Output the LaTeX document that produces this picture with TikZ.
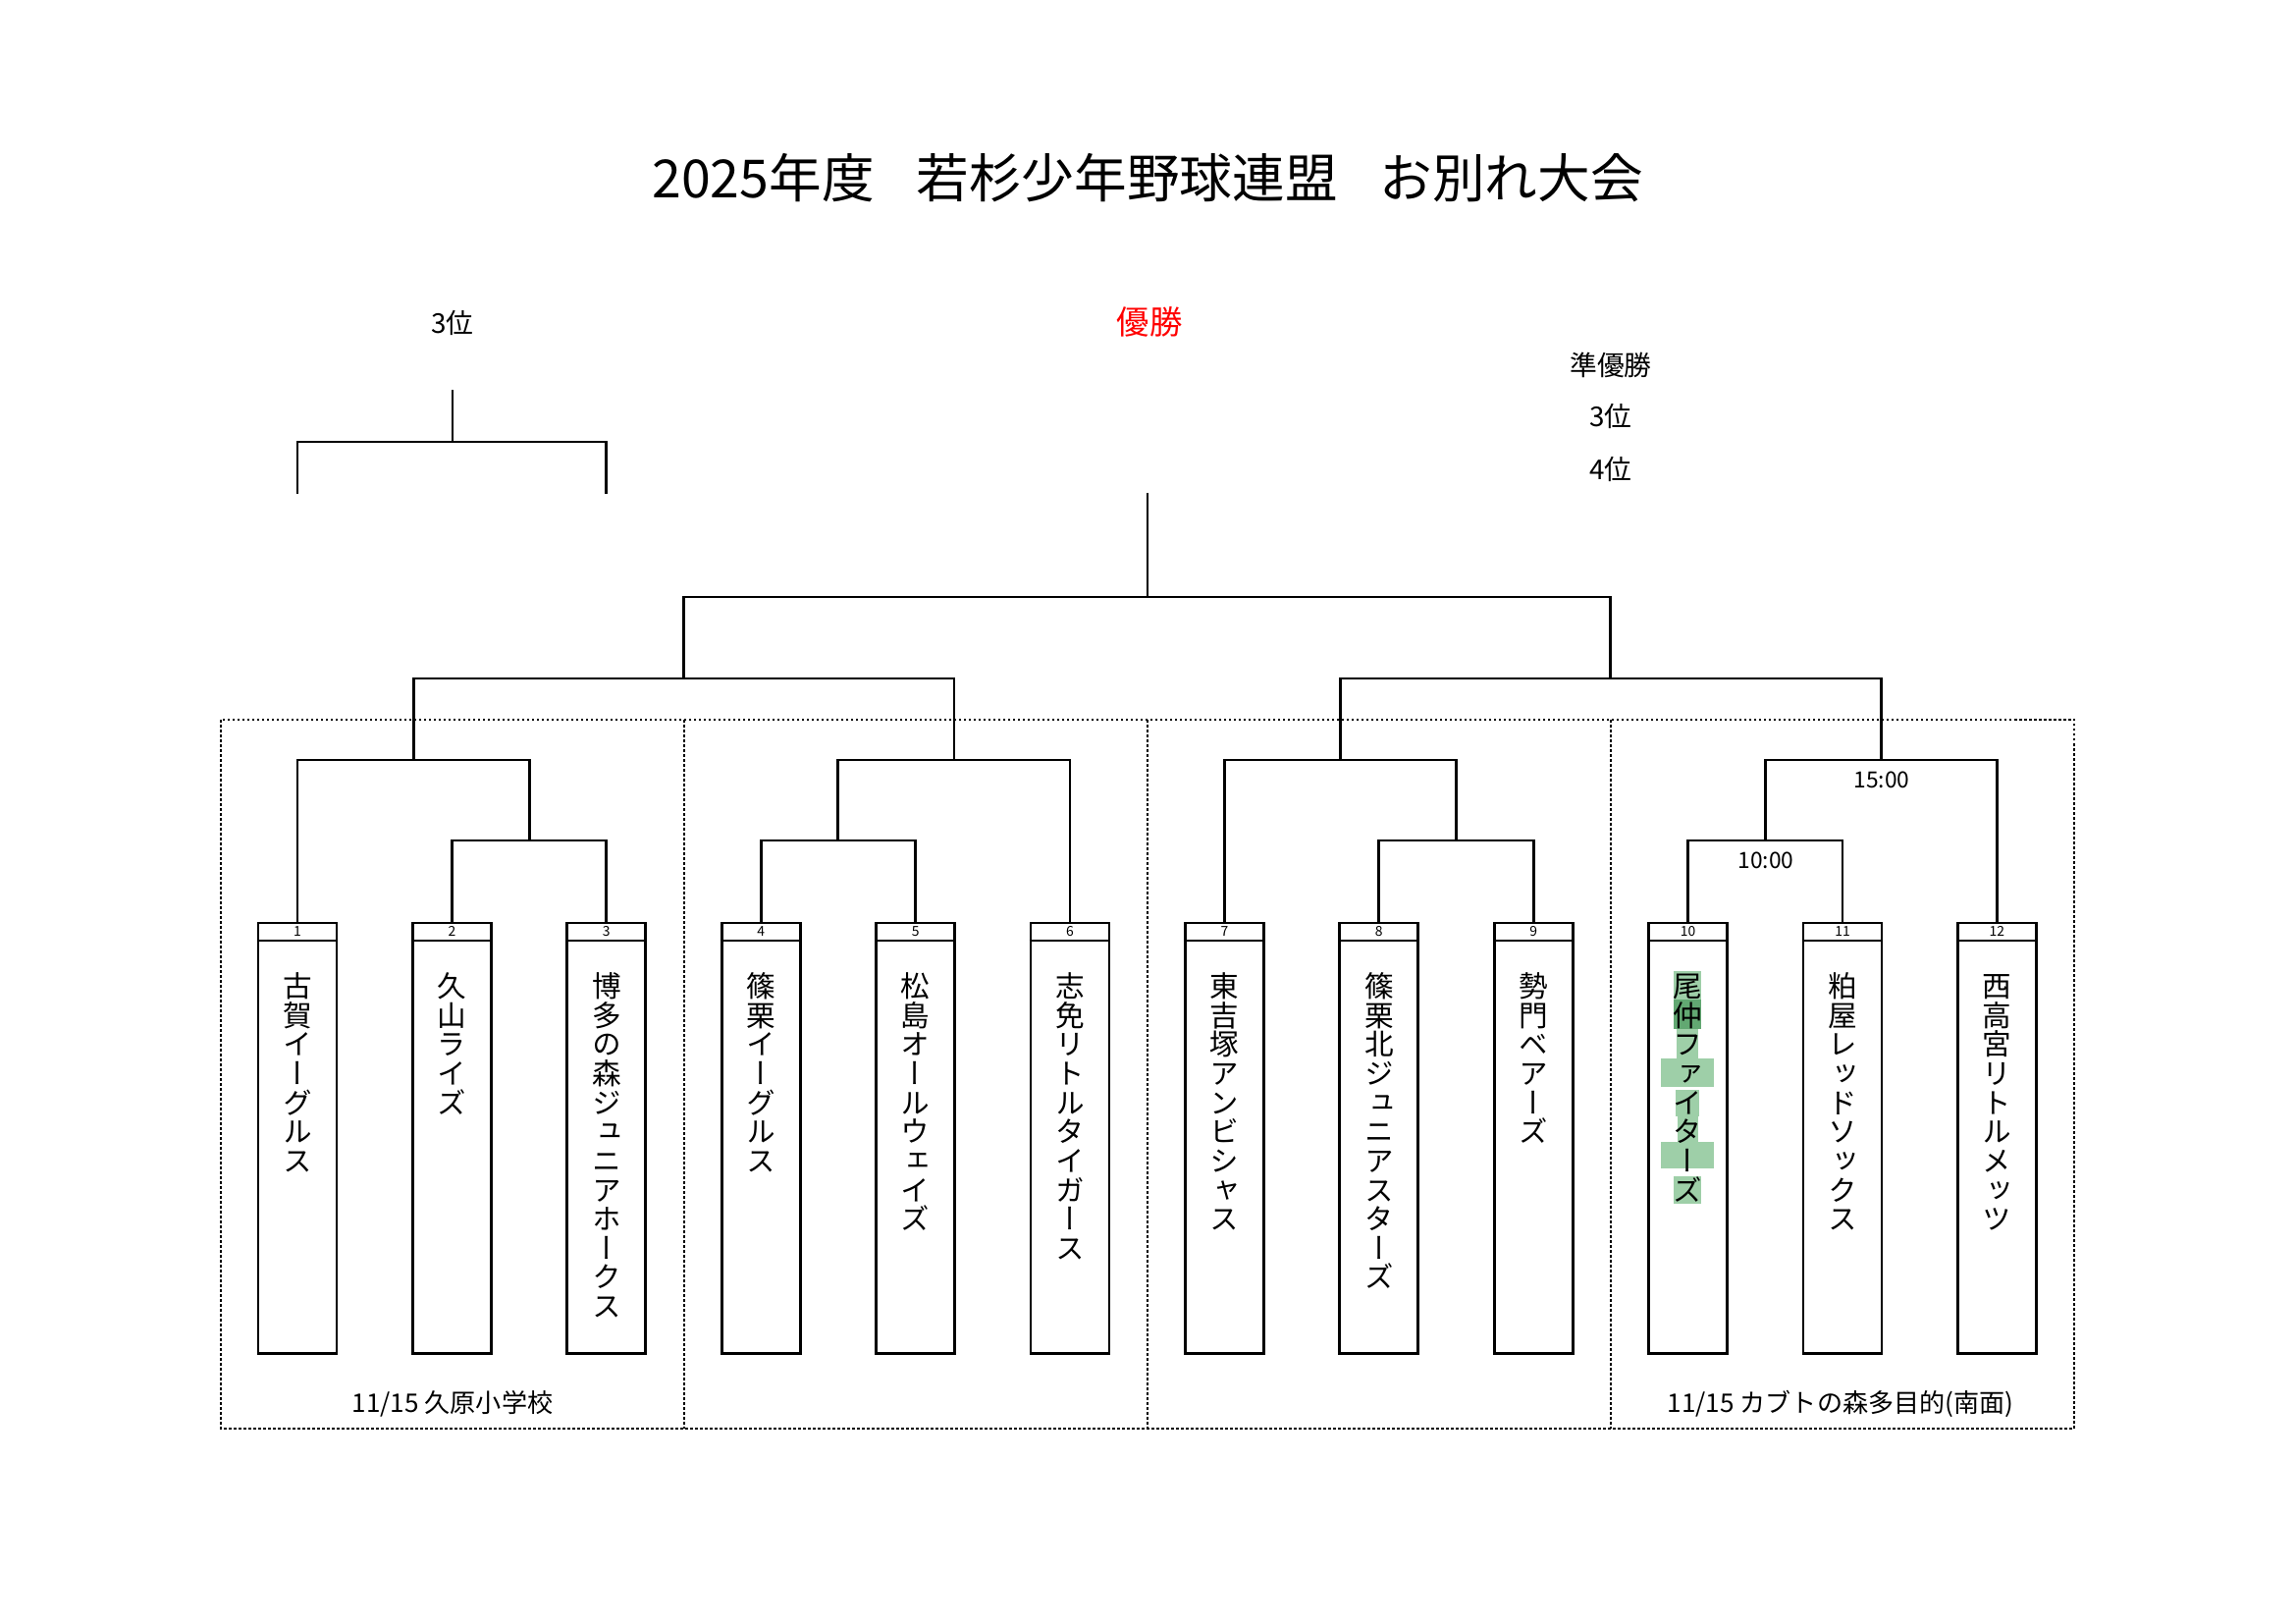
\documentclass[tikz,border=0pt]{standalone}
\usepackage{fontspec}
\setmainfont{Noto Sans CJK JP}
\newfontfamily\vjp[RawFeature=+vert]{Noto Sans CJK JP}
\makeatletter
\def\vt@end{\vt@end}
\def\vt@loop#1{\ifx#1\vt@end\else\hbox to 1em{\hss\vrule height .88em depth .12em width 0pt\relax#1\hss}\expandafter\vt@loop\fi}
\newcommand\vtext[1]{\vbox{\offinterlineskip\vt@loop#1\vt@end}}
\makeatother
\definecolor{hlgreen}{RGB}{158,207,168}
\definecolor{hldark}{RGB}{98,168,114}
\definecolor{champred}{RGB}{255,0,0}
\tikzset{
  teambox/.style={draw, line width=1.05pt, minimum width=28.8pt, minimum height=157.8pt, inner sep=0pt, anchor=north},
  hdrline/.style={line width=0.9pt},
  bracket/.style={line width=1.05pt},
  stemline/.style={line width=0.8pt},
  frame/.style={line width=0.45pt, dash pattern=on 0.9pt off 0.9pt},
  numfont/.style={font=\fontsize{5pt}{5pt}\selectfont, inner sep=0pt},
  namefont/.style={font=\fontsize{10.66pt}{10.66pt}\selectfont\vjp, inner sep=0pt, anchor=north},
  lbl/.style={font=\fontsize{10pt}{12pt}\selectfont, inner sep=0pt},
  timefont/.style={font=\fontsize{8.2pt}{10pt}\selectfont, inner sep=0pt},
  venue/.style={font=\fontsize{9.4pt}{11pt}\selectfont, inner sep=0pt},
}
\begin{document}
\begin{tikzpicture}[x=0.35994pt, y=-0.35994pt]
\fill[white] (0,0) rectangle (2339,1653);
\useasboundingbox (0,0) rectangle (2339,1653);

% highlight behind team 10
\fill[hlgreen] (1705,989) rectangle (1733.3,1018.3);
\fill[hldark] (1705,1018.3) rectangle (1733.3,1048.3);
\fill[hlgreen] (1708.3,1048.3) rectangle (1730,1078.3);
\fill[hlgreen] (1691.7,1078.3) rectangle (1745.7,1106.7);
\fill[hlgreen] (1707.3,1110) rectangle (1730.7,1136.7);
\fill[hlgreen] (1709.3,1136.7) rectangle (1730,1163);
\fill[hlgreen] (1691.7,1163) rectangle (1745.7,1190);
\fill[hlgreen] (1705,1198) rectangle (1733,1226);

% dotted venue frames
\draw[frame] (225,733) rectangle (2113,1455);
\foreach \dx in {697,1169,1641} \draw[frame] (\dx,733) -- (\dx,1455);

% title and labels
\node[font=\fontsize{19.3pt}{22pt}\selectfont, inner sep=0pt] (title) at (1169,181) {2025年度　\kern-0.2em若杉少年野球連盟　\kern-0.2emお別れ大会};
\node[font=\fontsize{12pt}{14pt}\selectfont, text=champred, inner sep=0pt] (champ) at (1171,327.5) {優勝};
\node[lbl] (third) at (461,329) {3位};
\node[lbl] (runner) at (1641,372) {準優勝};
\node[lbl] (rthird) at (1641,424) {3位};
\node[lbl] (rfourth) at (1641,478) {4位};

% team boxes
\foreach \i/\x/\nm in {1/303/古賀イーグルス, 2/460.4/久山ライズ, 3/617.8/博多の森ジュニアホークス,
  4/775.2/篠栗イーグルス, 5/932.6/松島オールウェイズ, 6/1090/志免リトルタイガース,
  7/1247.4/東吉塚アンビシャス, 8/1404.8/篠栗北ジュニアスターズ, 9/1562.2/勢門ベアーズ,
  10/1719.6/尾仲ファイターズ, 11/1877/粕屋レッドソックス, 12/2034.4/西高宮リトルメッツ}{
  \node[teambox] (b\i) at (\x,938.5) {};
  \draw[hdrline] ([yshift=-7pt]b\i.north west) -- ([yshift=-7pt]b\i.north east);
  \node[numfont] (n\i) at ([yshift=-3.6pt]b\i.north) {\i};
  \node[namefont] (t\i) at ([yshift=-18.2pt]b\i.north) {\expandafter\vtext\expandafter{\nm}};
}

% first round
\coordinate (r23) at (539.1,856);
\coordinate (r45) at (853.9,856);
\coordinate (r89) at (1483.5,856);
\coordinate (r1011) at (1798.3,856);
\draw[bracket] (b2.north) |- (r23) -| (b3.north);
\draw[bracket] (b4.north) |- (r45) -| (b5.north);
\draw[bracket] (b8.north) |- (r89) -| (b9.north);
\draw[bracket] (b10.north) |- (r1011) -| (b11.north);

% quarter finals
\coordinate (q1) at (421.05,774);
\coordinate (q2) at (971.95,774);
\coordinate (q3) at (1365.45,774);
\coordinate (q4) at (1916.35,774);
\draw[bracket] (b1.north) |- (q1) -| (r23);
\draw[bracket] (r45) |- (q2) -| (b6.north);
\draw[bracket] (b7.north) |- (q3) -| (r89);
\draw[bracket] (r1011) |- (q4) -| (b12.north);

% semi finals
\coordinate (s1) at (696.5,691);
\coordinate (s2) at (1640.9,691);
\draw[bracket] (q1) |- (s1) -| (q2);
\draw[bracket] (q3) |- (s2) -| (q4);

% final
\coordinate (fin) at (1168.7,608);
\coordinate (fintop) at (1168.7,502);
\draw[bracket] (s1) |- (fin) -| (s2);
\draw[stemline] (fin) -- (fintop);

% third place bracket
\coordinate (tp) at (461,450);
\coordinate (tptop) at (461,397);
\coordinate (tpL) at (303,503);
\coordinate (tpR) at (617.8,503);
\draw[bracket] (tpL) |- (tp) -| (tpR);
\draw[stemline] (tp) -- (tptop);

% times
\node[timefont] (t15) at (1917,794) {15:00};
\node[timefont] (t10) at (1799,876) {10:00};

% venues
\node[venue] (v1) at (461,1430) {11/15 久原小学校};
\node[venue] (v2) at (1875,1430) {11/15 カブトの森多目的(南面)};
\end{tikzpicture}
\end{document}
